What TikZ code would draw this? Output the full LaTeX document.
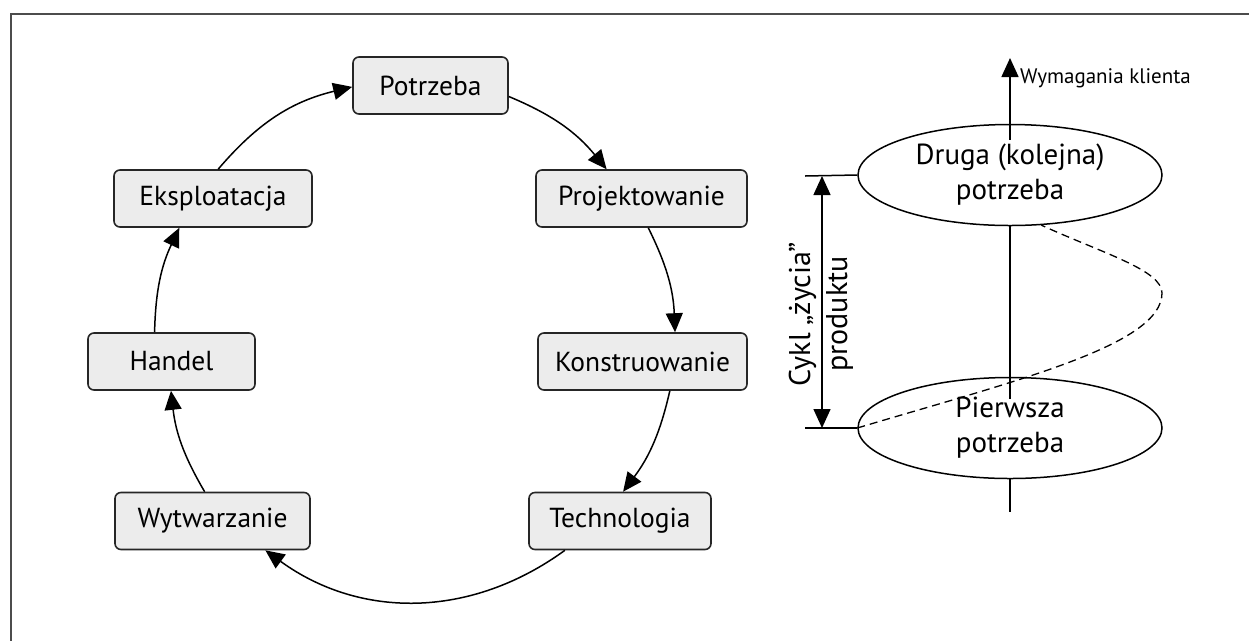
\documentclass[tikz,border=0pt]{standalone}
\usepackage{fontspec}
\setmainfont{PT Sans}
\usetikzlibrary{arrows.meta,shapes.geometric,calc}
\begin{document}
\begin{tikzpicture}[x=1pt,y=-1pt,
  >={Triangle[length=19pt,width=17pt]},
  box/.style={draw=black!85, line width=1.6pt, fill=gray!15, rounded corners=6pt,
    minimum height=57pt, inner sep=0pt, font=\fontsize{27.5}{31}\selectfont},
  cyc/.style={line width=1.5pt, ->},
  ell/.style={draw, ellipse, line width=1.5pt, minimum width=304pt, minimum height=101pt,
    inner sep=0pt, align=center, font=\fontsize{29}{35}\selectfont},
  axis/.style={line width=1.5pt},
  frameline/.style={draw=black!70, line width=2pt}]
\useasboundingbox (0,0) rectangle (1249,641);
% frame
\coordinate (f1) at (10,14);
\coordinate (f2) at (1249,14);
\coordinate (f0) at (11,14);
\coordinate (f3) at (11,641);
\draw[frameline] (f2) -- (f1);
\draw[frameline] (f0) -- (f3);

% cycle boxes
\node[box, minimum width=155pt] (pot)  at (430.5,85.5)  {Potrzeba};
\node[box, minimum width=211pt] (proj) at (641.5,198.5) {Projektowanie};
\node[box, minimum width=209pt] (kon)  at (642.5,361.5) {Konstruowanie};
\node[box, minimum width=182pt] (tech) at (620,521)     {Technologia};
\node[box, minimum width=195pt] (wyt)  at (212.5,521)   {Wytwarzanie};
\node[box, minimum width=167pt] (han)  at (171.5,361.5) {Handel};
\node[box, minimum width=198pt] (eks)  at (213,198.5)   {Eksploatacja};

\draw[cyc] (pot.-8)   to[bend left=14] (proj.140);
\draw[cyc] (proj.-77) to[bend left=12] (kon.42);
\draw[cyc] (kon.-47)  to[bend left=12] (tech.84);
\draw[cyc] (tech.208) to[bend left=36] (wyt.-29);
\draw[cyc] (wyt.105)  to[bend left=12] (han.-91);
\draw[cyc] (han.120)  to[bend left=12] (eks.-139);
\draw[cyc] (eks.80)   to[bend left=18] (pot.181);

% right part
\node[ell] (druga) at (1010,175) {Druga (kolejna)\\potrzeba};
\node[ell] (pierw) at (1010,428) {Pierwsza\\potrzeba};
\coordinate (axtop) at (1010,58);
\coordinate (a1) at (1010,140);
\coordinate (a2) at (1010,399);
\coordinate (a3) at (1010,512);
\draw[axis, ->] (a1) -- (axtop);
\draw[axis] (druga.south) -- (a2);
\draw[axis] (pierw.south) -- (a3);
\node[anchor=west, font=\fontsize{21}{24}\selectfont, inner sep=0pt] (wym) at (1020,78) {Wymagania klienta};

\draw[dashed, dash pattern=on 8pt off 5pt, line width=1.3pt]
  (pierw.west) .. controls (1018,380) and (1162,345) .. (1162,293)
  .. controls (1162,270) and (1102,253) .. (druga.-58);

% dimension
\coordinate (t1) at (805,176);
\coordinate (t2) at (805,428);
\coordinate (d1) at (822,176);
\coordinate (d2) at (822,428);
\draw[axis] (t1) -- (druga.west);
\draw[axis] (t2) -- (pierw.west);
\draw[axis, <->] (d1) -- (d2);
\node[rotate=90, align=center, inner sep=0pt, font=\fontsize{30}{37}\selectfont] (cykl) at (821,314) {Cykl „życia”\\produktu};
\end{tikzpicture}
\end{document}
